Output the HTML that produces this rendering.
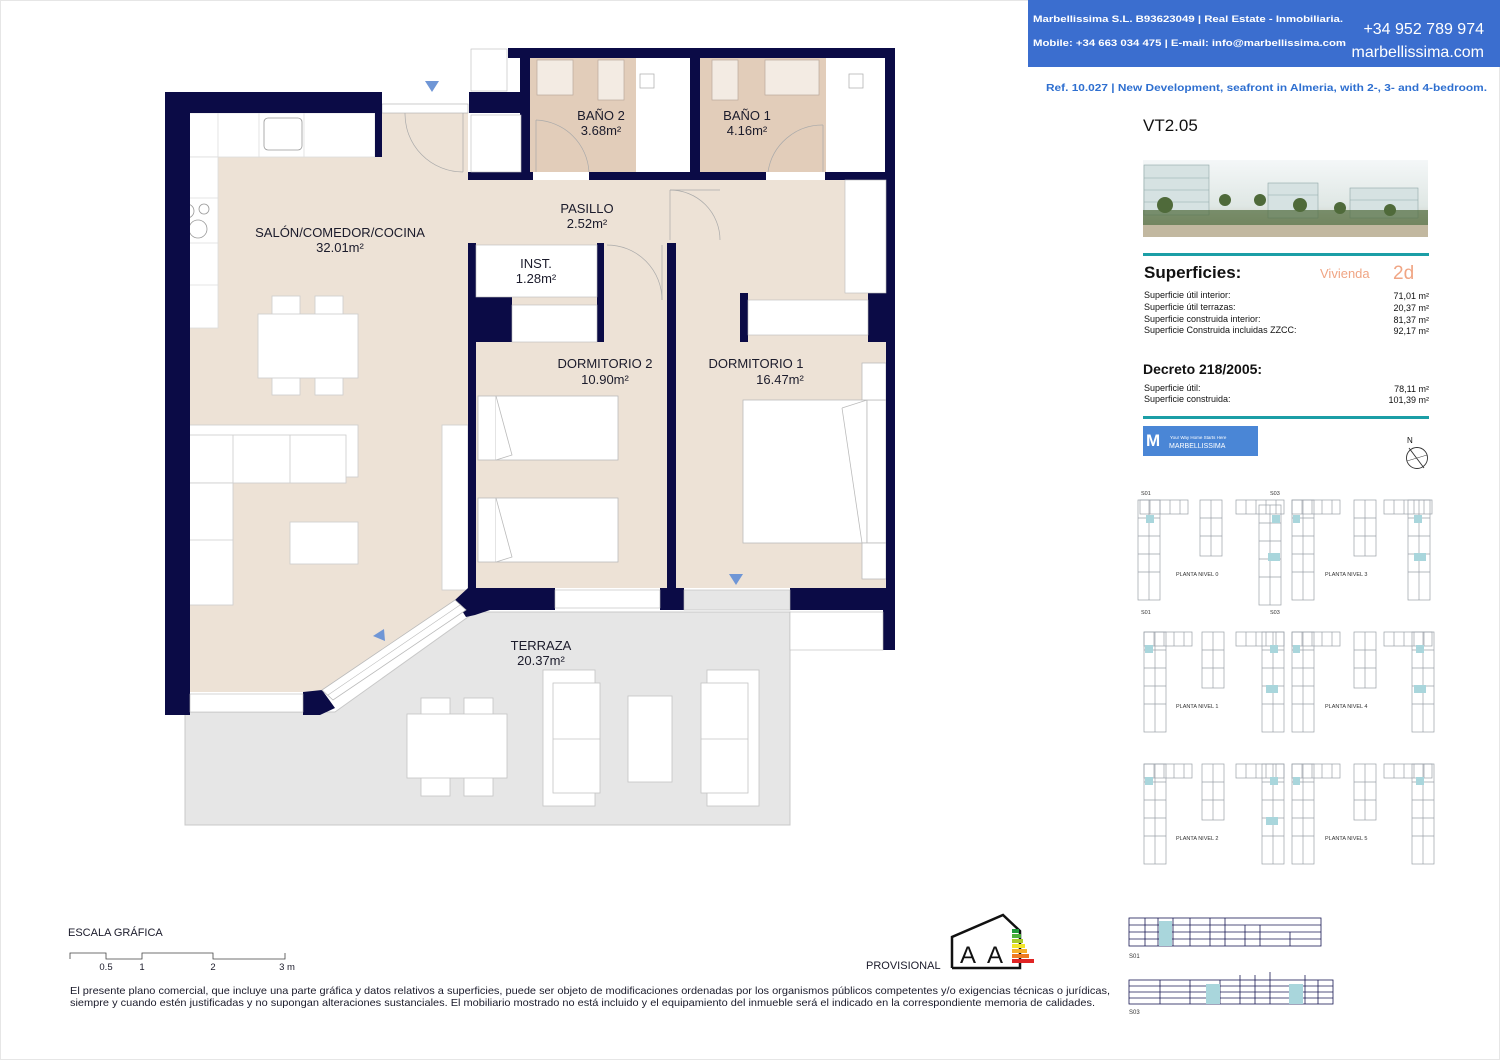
<!DOCTYPE html>
<html><head><meta charset="utf-8"><style>
html,body{margin:0;padding:0;background:#fff}
svg{display:block}
text{font-family:"Liberation Sans",Arial,sans-serif}
</style></head><body>
<svg width="1500" height="1060" viewBox="0 0 1500 1060" xmlns="http://www.w3.org/2000/svg">
<defs>
<linearGradient id="sky" x1="0" y1="0" x2="0" y2="1"><stop offset="0" stop-color="#f4f7f8"/><stop offset="0.6" stop-color="#dfe7e4"/><stop offset="1" stop-color="#b9b29c"/></linearGradient>
<g id="kpv" fill="none" stroke="#9aa0a8" stroke-width="0.7">
<rect x="0" y="0" width="22" height="100"/><line x1="0" y1="18" x2="22" y2="18"/><line x1="0" y1="36" x2="22" y2="36"/><line x1="0" y1="54" x2="22" y2="54"/><line x1="0" y1="72" x2="22" y2="72"/><line x1="11" y1="0" x2="11" y2="100"/>
</g>
<g id="kph" fill="none" stroke="#9aa0a8" stroke-width="0.7">
<rect x="0" y="0" width="48" height="14"/><line x1="10" y1="0" x2="10" y2="14"/><line x1="20" y1="0" x2="20" y2="14"/><line x1="30" y1="0" x2="30" y2="14"/><line x1="40" y1="0" x2="40" y2="14"/>
</g>
<g id="kpb" fill="none" stroke="#9aa0a8" stroke-width="0.7">
<rect x="0" y="0" width="22" height="56"/><line x1="0" y1="18" x2="22" y2="18"/><line x1="0" y1="36" x2="22" y2="36"/><line x1="11" y1="0" x2="11" y2="56"/>
</g>
</defs>
<rect x="0.5" y="0.5" width="1499" height="1059" fill="#fff" stroke="#e6e6e6"/>

<!-- HEADER -->
<rect x="1028" y="0" width="472" height="67" fill="#3b6ecf"/>
<text x="1033" y="22" font-size="9.5" font-weight="bold" fill="#fff" textLength="310" lengthAdjust="spacingAndGlyphs">Marbellissima S.L. B93623049 | Real Estate - Inmobiliaria.</text>
<text x="1033" y="46" font-size="9.5" font-weight="bold" fill="#fff" textLength="313" lengthAdjust="spacingAndGlyphs">Mobile: +34 663 034 475 | E-mail: info@marbellissima.com</text>
<text x="1484" y="34" font-size="16" fill="#fff" text-anchor="end">+34 952 789 974</text>
<text x="1484" y="57" font-size="16" fill="#fff" text-anchor="end">marbellissima.com</text>
<text x="1046" y="91" font-size="10.5" font-weight="bold" fill="#2e6fd0" textLength="441" lengthAdjust="spacingAndGlyphs">Ref. 10.027 | New Development, seafront in Almeria, with 2-, 3- and 4-bedroom.</text>
<text x="1143" y="131" font-size="17" fill="#111">VT2.05</text>

<!-- photo -->
<rect x="1143" y="160" width="285" height="77" fill="url(#sky)"/>
<g fill="#d6e2e2" stroke="#8fa8a8" stroke-width="0.6">
<rect x="1144" y="165" width="65" height="50"/><rect x="1268" y="183" width="50" height="35"/><rect x="1350" y="188" width="68" height="30"/>
</g>
<g stroke="#8fa8a8" stroke-width="0.6"><line x1="1144" y1="178" x2="1209" y2="178"/><line x1="1144" y1="190" x2="1209" y2="190"/><line x1="1144" y1="202" x2="1209" y2="202"/><line x1="1268" y1="195" x2="1318" y2="195"/><line x1="1350" y1="200" x2="1418" y2="200"/></g>
<g fill="#4f6a3a"><rect x="1143" y="210" width="285" height="15" opacity="0.7"/><circle cx="1165" cy="205" r="8"/><circle cx="1225" cy="200" r="6"/><circle cx="1260" cy="200" r="6"/><circle cx="1300" cy="205" r="7"/><circle cx="1340" cy="208" r="6"/><circle cx="1390" cy="210" r="6"/></g>
<rect x="1143" y="225" width="285" height="12" fill="#c2b8a0"/>

<!-- superficies -->
<rect x="1143" y="253" width="286" height="3" fill="#1b9ea6"/>
<text x="1144" y="278" font-size="17" font-weight="bold" fill="#111">Superficies:</text>
<text x="1320" y="278" font-size="13" fill="#f0a584">Vivienda</text>
<text x="1393" y="279" font-size="19" fill="#f0a584">2d</text>
<g font-size="9" fill="#111">
<text x="1144" y="298">Superficie útil interior:</text><text x="1429" y="299" text-anchor="end">71,01 m²</text>
<text x="1144" y="310">Superficie útil terrazas:</text><text x="1429" y="311" text-anchor="end">20,37 m²</text>
<text x="1144" y="322">Superficie construida interior:</text><text x="1429" y="323" text-anchor="end">81,37 m²</text>
<text x="1144" y="333">Superficie Construida incluidas ZZCC:</text><text x="1429" y="334" text-anchor="end">92,17 m²</text>
</g>
<text x="1143" y="374" font-size="14" font-weight="bold" fill="#111">Decreto 218/2005:</text>
<g font-size="9" fill="#111">
<text x="1144" y="391">Superficie útil:</text><text x="1429" y="392" text-anchor="end">78,11 m²</text>
<text x="1144" y="402">Superficie construida:</text><text x="1429" y="403" text-anchor="end">101,39 m²</text>
</g>
<rect x="1143" y="416" width="286" height="3" fill="#1b9ea6"/>
<rect x="1143" y="426" width="115" height="30" fill="#4a86d6"/>
<text x="1146" y="446" font-size="17" font-weight="bold" fill="#fff">M</text>
<text x="1170" y="439" font-size="4.5" fill="#fff">Your Way Home Starts Here</text>
<text x="1169" y="448" font-size="7" fill="#fff">MARBELLISSIMA</text>
<text x="1407" y="443" font-size="8" fill="#111">N</text>
<circle cx="1417" cy="458" r="10.5" fill="none" stroke="#333" stroke-width="0.9"/>
<line x1="1409" y1="448" x2="1424" y2="468" stroke="#333" stroke-width="0.9"/>
<line x1="1407" y1="461" x2="1427" y2="455" stroke="#333" stroke-width="0.5"/>

<!-- key plans -->
<g font-size="5.5" fill="#333">
<text x="1141" y="495">S01</text><text x="1270" y="495">S03</text>
<text x="1141" y="614">S01</text><text x="1270" y="614">S03</text>
<text x="1176" y="576">PLANTA NIVEL 0</text><text x="1325" y="576">PLANTA NIVEL 3</text>
<text x="1176" y="708">PLANTA NIVEL 1</text><text x="1325" y="708">PLANTA NIVEL 4</text>
<text x="1176" y="840">PLANTA NIVEL 2</text><text x="1325" y="840">PLANTA NIVEL 5</text>
</g>
<g>
<use href="#kpv" x="1138" y="500"/><use href="#kph" x="1140" y="500"/><use href="#kpb" x="1200" y="500"/><use href="#kph" x="1236" y="500"/><use href="#kpv" x="1259" y="505"/>
<use href="#kpv" x="1292" y="500"/><use href="#kph" x="1292" y="500"/><use href="#kpb" x="1354" y="500"/><use href="#kph" x="1384" y="500"/><use href="#kpv" x="1408" y="500"/>
<use href="#kpv" x="1144" y="632"/><use href="#kph" x="1144" y="632"/><use href="#kpb" x="1202" y="632"/><use href="#kph" x="1236" y="632"/><use href="#kpv" x="1262" y="632"/>
<use href="#kpv" x="1292" y="632"/><use href="#kph" x="1292" y="632"/><use href="#kpb" x="1354" y="632"/><use href="#kph" x="1384" y="632"/><use href="#kpv" x="1412" y="632"/>
<use href="#kpv" x="1144" y="764"/><use href="#kph" x="1144" y="764"/><use href="#kpb" x="1202" y="764"/><use href="#kph" x="1236" y="764"/><use href="#kpv" x="1262" y="764"/>
<use href="#kpv" x="1292" y="764"/><use href="#kph" x="1292" y="764"/><use href="#kpb" x="1354" y="764"/><use href="#kph" x="1384" y="764"/><use href="#kpv" x="1412" y="764"/>
</g>
<g fill="#a9d6dc">
<rect x="1146" y="515" width="8" height="8"/><rect x="1272" y="515" width="8" height="8"/><rect x="1268" y="553" width="12" height="8"/><rect x="1293" y="515" width="7" height="8"/><rect x="1414" y="515" width="8" height="8"/><rect x="1414" y="553" width="12" height="8"/>
<rect x="1145" y="645" width="8" height="8"/><rect x="1270" y="645" width="8" height="8"/><rect x="1266" y="685" width="12" height="8"/><rect x="1293" y="645" width="7" height="8"/><rect x="1416" y="645" width="8" height="8"/><rect x="1414" y="685" width="12" height="8"/>
<rect x="1145" y="777" width="8" height="8"/><rect x="1270" y="777" width="8" height="8"/><rect x="1266" y="817" width="12" height="8"/><rect x="1293" y="777" width="7" height="8"/><rect x="1416" y="777" width="8" height="8"/>
</g>

<!-- sections -->
<g stroke="#1a1a55" stroke-width="0.8" fill="none">
<rect x="1129" y="918" width="192" height="28"/>
<line x1="1129" y1="925" x2="1321" y2="925"/><line x1="1129" y1="932" x2="1321" y2="932"/><line x1="1129" y1="939" x2="1321" y2="939"/>
<line x1="1145" y1="918" x2="1145" y2="946"/><line x1="1158" y1="918" x2="1158" y2="946"/><line x1="1173" y1="918" x2="1173" y2="946"/><line x1="1190" y1="918" x2="1190" y2="946"/><line x1="1210" y1="918" x2="1210" y2="946"/><line x1="1225" y1="918" x2="1225" y2="946"/><line x1="1245" y1="925" x2="1245" y2="946"/><line x1="1260" y1="925" x2="1260" y2="946"/><line x1="1290" y1="932" x2="1290" y2="946"/>
<rect x="1129" y="980" width="204" height="24"/>
<line x1="1129" y1="986" x2="1333" y2="986"/><line x1="1129" y1="992" x2="1333" y2="992"/><line x1="1129" y1="998" x2="1333" y2="998"/>
<line x1="1160" y1="980" x2="1160" y2="1004"/><line x1="1190" y1="980" x2="1190" y2="1004"/><line x1="1220" y1="980" x2="1220" y2="1004"/><line x1="1240" y1="975" x2="1240" y2="1004"/><line x1="1255" y1="975" x2="1255" y2="1004"/><line x1="1270" y1="972" x2="1270" y2="1004"/><line x1="1305" y1="975" x2="1305" y2="1004"/><line x1="1318" y1="980" x2="1318" y2="1004"/>
</g>
<rect x="1159" y="921" width="13" height="25" fill="#a9d6dc"/>
<rect x="1206" y="984" width="14" height="20" fill="#a9d6dc"/><rect x="1289" y="984" width="14" height="20" fill="#a9d6dc"/>
<text x="1129" y="958" font-size="6" fill="#333">S01</text><text x="1129" y="1014" font-size="6" fill="#333">S03</text>

<!-- ============ FLOOR PLAN ============ -->
<polygon points="185,712 335,712 475,612 790,612 790,825 185,825" fill="#e6e6e6" stroke="#c8c8c8" stroke-width="1"/>
<polygon points="190,113 468,113 468,180 886,180 886,588 676,588 676,243 667,243 667,588 476,588 476,243 468,243 468,590 455,600 320,692 190,692" fill="#ede2d6"/>
<rect x="476" y="342" width="191" height="246" fill="#ede2d6"/>
<rect x="676" y="180" width="210" height="408" fill="#ede2d6"/>
<rect x="530" y="58" width="106" height="114" fill="#e2cdba"/>
<rect x="636" y="58" width="57" height="114" fill="#fff"/>
<rect x="700" y="58" width="126" height="114" fill="#e2cdba"/>
<rect x="826" y="58" width="59" height="114" fill="#fff"/>
<g fill="#f3ebe3" stroke="#b9aa9c" stroke-width="0.7">
<rect x="537" y="60" width="36" height="35"/><rect x="598" y="60" width="26" height="40"/>
<rect x="712" y="60" width="26" height="40"/><rect x="765" y="60" width="54" height="35"/>
</g>
<g fill="#fff" stroke="#aaa" stroke-width="0.7"><rect x="640" y="74" width="14" height="14"/><rect x="849" y="74" width="14" height="14"/></g>
<g fill="none" stroke="#aaa" stroke-width="0.7">
<path d="M536,120 A55,55 0 0 1 589,172"/><line x1="536" y1="120" x2="536" y2="172"/>
<path d="M823,125 A55,55 0 0 0 768,172"/><line x1="823" y1="125" x2="823" y2="172"/>
<path d="M405,113 A58,58 0 0 0 463,172"/><line x1="463" y1="113" x2="463" y2="172"/>
<path d="M670,190 A50,50 0 0 1 720,240"/><line x1="670" y1="190" x2="670" y2="240"/><line x1="670" y1="190" x2="720" y2="190"/>
<path d="M662,300 A55,55 0 0 0 607,245"/><line x1="662" y1="245" x2="662" y2="300"/>
</g>
<rect x="382" y="104" width="86" height="9" fill="#fff" stroke="#aaa" stroke-width="0.6"/>

<g fill="#fff" stroke="#ddd" stroke-width="0.8">
<rect x="175" y="113" width="200" height="44"/><rect x="175" y="157" width="43" height="171"/>
<line x1="218" y1="113" x2="218" y2="157"/><line x1="259" y1="113" x2="259" y2="157"/><line x1="304" y1="113" x2="304" y2="157"/><line x1="175" y1="198" x2="218" y2="198"/><line x1="175" y1="243" x2="218" y2="243"/><line x1="175" y1="285" x2="218" y2="285"/>
</g>
<rect x="264" y="118" width="38" height="32" rx="4" fill="#fff" stroke="#999" stroke-width="0.8"/>
<g fill="none" stroke="#999" stroke-width="0.8"><circle cx="187" cy="211" r="7"/><circle cx="204" cy="209" r="5"/><circle cx="198" cy="229" r="9"/></g>
<g fill="#fff" stroke="#ccc" stroke-width="0.8">
<rect x="272" y="296" width="28" height="28"/><rect x="315" y="296" width="28" height="28"/>
<rect x="272" y="367" width="28" height="28"/><rect x="315" y="367" width="28" height="28"/>
<rect x="258" y="314" width="100" height="64"/>
<rect x="176" y="425" width="182" height="52"/><rect x="186" y="435" width="160" height="48"/>
<line x1="233" y1="435" x2="233" y2="483"/><line x1="290" y1="435" x2="290" y2="483"/>
<rect x="176" y="483" width="57" height="122"/><line x1="186" y1="540" x2="233" y2="540"/>
<rect x="290" y="522" width="68" height="42"/>
<rect x="442" y="425" width="26" height="165"/>
</g>
<g fill="#fff" stroke="#bbb" stroke-width="0.8">
<rect x="478" y="396" width="140" height="64"/><rect x="478" y="498" width="140" height="64"/>
<line x1="496" y1="396" x2="496" y2="460"/><line x1="496" y1="498" x2="496" y2="562"/>
<polyline points="496,396 512,455 496,460"/><polyline points="496,498 512,557 496,562"/>
<rect x="743" y="400" width="124" height="143"/><polyline points="842,408 867,400 867,543"/><line x1="842" y1="408" x2="862" y2="543"/>
<rect x="867" y="400" width="19" height="143"/><rect x="862" y="363" width="24" height="37"/><rect x="862" y="543" width="24" height="36"/>
</g>
<g fill="#0b0b46">
<rect x="165" y="92" width="217" height="21"/><rect x="165" y="92" width="25" height="623"/><rect x="375" y="92" width="7" height="65"/>
<rect x="469" y="92" width="60" height="21"/>
<rect x="508" y="48" width="387" height="10"/><rect x="520" y="48" width="10" height="132"/>
<rect x="468" y="172" width="65" height="8"/><rect x="589" y="172" width="177" height="8"/><rect x="825" y="172" width="70" height="8"/>
<rect x="690" y="58" width="10" height="122"/><rect x="885" y="48" width="10" height="132"/>
<rect x="886" y="180" width="9" height="470"/>
<rect x="468" y="243" width="8" height="347"/><rect x="468" y="297" width="44" height="45"/><rect x="597" y="243" width="7" height="99"/>
<rect x="667" y="243" width="9" height="367"/>
<rect x="740" y="293" width="8" height="49"/><rect x="868" y="293" width="18" height="49"/>
<rect x="476" y="588" width="79" height="22"/><rect x="660" y="588" width="24" height="22"/><rect x="790" y="588" width="105" height="22"/>
<rect x="883" y="600" width="12" height="50"/>
<polygon points="455,600 468,588 490,588 490,610 475,615 466,617"/>
<polygon points="303,692 322,690 335,708 320,715 303,715"/>
</g>
<g fill="#fff" stroke="#bbb" stroke-width="0.6">
<rect x="471" y="49" width="36" height="42"/><rect x="471" y="115" width="50" height="57"/>
<rect x="476" y="245" width="121" height="52"/><rect x="512" y="305" width="85" height="37"/>
<rect x="845" y="180" width="41" height="113"/><rect x="748" y="300" width="120" height="35"/>
<rect x="555" y="590" width="105" height="18"/><rect x="790" y="612" width="93" height="38"/>
<rect x="190" y="694" width="113" height="18"/>
</g>
<polygon points="322,690 455,600 466,610 333,700" fill="#fff" stroke="#bbb" stroke-width="0.8"/>
<line x1="328" y1="695" x2="460" y2="605" stroke="#bbb" stroke-width="0.6"/>
<rect x="684" y="590" width="106" height="20" fill="#e6e6e6" stroke="#bbb" stroke-width="0.6"/>
<g fill="#fff" stroke="#c4c4c4" stroke-width="0.8">
<rect x="421" y="698" width="29" height="28"/><rect x="464" y="698" width="29" height="28"/>
<rect x="421" y="768" width="29" height="28"/><rect x="464" y="768" width="29" height="28"/>
<rect x="407" y="714" width="100" height="64"/>
<rect x="543" y="670" width="52" height="136"/><rect x="553" y="683" width="47" height="110"/><line x1="553" y1="739" x2="600" y2="739"/>
<rect x="628" y="696" width="44" height="86"/>
<rect x="707" y="670" width="52" height="136"/><rect x="701" y="683" width="47" height="110"/><line x1="701" y1="739" x2="748" y2="739"/>
</g>
<g fill="#6f96d6"><polygon points="425,81 439,81 432,92"/><polygon points="729,574 743,574 736,585"/><polygon points="373,636 384,629 385,641"/></g>

<g font-size="13" fill="#1b1b2b" text-anchor="middle">
<text x="601" y="120">BAÑO 2</text><text x="601" y="135">3.68m²</text>
<text x="747" y="120">BAÑO 1</text><text x="747" y="135">4.16m²</text>
<text x="587" y="213">PASILLO</text><text x="587" y="228">2.52m²</text>
<text x="340" y="237">SALÓN/COMEDOR/COCINA</text><text x="340" y="252">32.01m²</text>
<text x="536" y="268">INST.</text><text x="536" y="283">1.28m²</text>
<text x="605" y="368">DORMITORIO 2</text><text x="605" y="384">10.90m²</text>
<text x="756" y="368">DORMITORIO 1</text><text x="780" y="384">16.47m²</text>
<text x="541" y="650">TERRAZA</text><text x="541" y="665">20.37m²</text>
</g>

<text x="68" y="936" font-size="11" fill="#1b1b2b">ESCALA GRÁFICA</text>
<polyline points="70,959 70,953 106,953 106,959 142,959 142,953 213,953 213,959 285,959 285,953" fill="none" stroke="#444" stroke-width="0.8"/>
<g font-size="9.5" fill="#1b1b2b" text-anchor="middle"><text x="106" y="970">0.5</text><text x="142" y="970">1</text><text x="213" y="970">2</text><text x="287" y="970">3 m</text></g>
<text x="866" y="969" font-size="11" fill="#1b1b2b">PROVISIONAL</text>
<polyline points="952,968 952,937 1003,915 1020,931 1020,968 952,968" fill="none" stroke="#111" stroke-width="2.5"/>
<text x="960" y="963" font-size="24" fill="#111">A</text><text x="987" y="963" font-size="24" fill="#111">A</text>
<g><rect x="1012" y="929" width="7" height="4" fill="#1e9a3a"/><rect x="1012" y="934" width="9" height="4" fill="#4caf3a"/><rect x="1012" y="939" width="11" height="4" fill="#a8cc2a"/><rect x="1012" y="944" width="13" height="4" fill="#f2e52a"/><rect x="1012" y="949" width="15" height="4" fill="#f6b02a"/><rect x="1012" y="954" width="17" height="4" fill="#ee7a22"/><rect x="1012" y="959" width="22" height="4" fill="#e02424"/></g>
<g font-size="10.2" fill="#1b1b2b">
<text x="70" y="994" textLength="1040" lengthAdjust="spacingAndGlyphs">El presente plano comercial, que incluye una parte gráfica y datos relativos a superficies, puede ser objeto de modificaciones ordenadas por los organismos públicos competentes y/o exigencias técnicas o jurídicas,</text>
<text x="70" y="1006" textLength="1025" lengthAdjust="spacingAndGlyphs">siempre y cuando estén justificadas y no supongan alteraciones sustanciales. El mobiliario mostrado no está incluido y el equipamiento del inmueble será el indicado en la correspondiente memoria de calidades.</text>
</g>
</svg>
</body></html>
